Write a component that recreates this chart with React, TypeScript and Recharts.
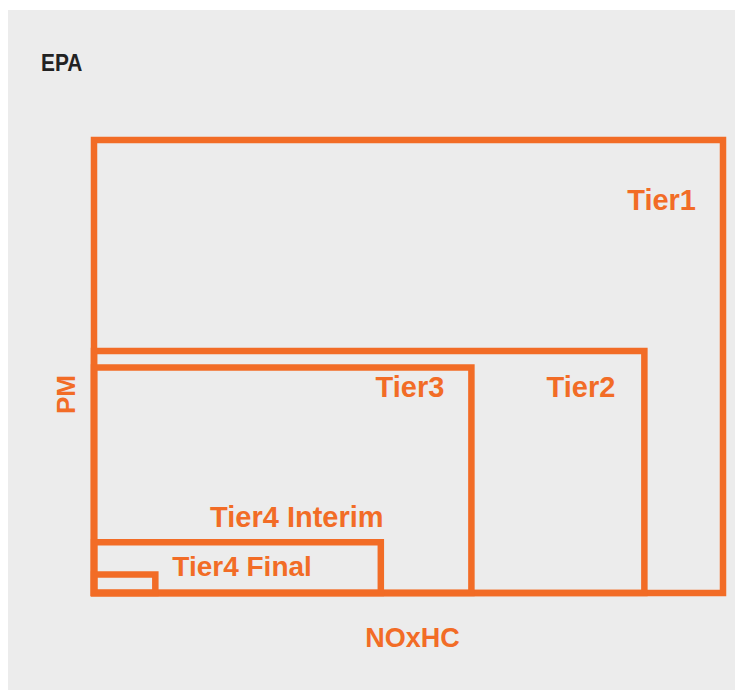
import React from "react";
import {
  ScatterChart,
  Scatter,
  XAxis,
  YAxis,
  ReferenceArea,
} from "recharts";

// EPA emission tiers (relative units, 0-100)
const tiers = ["Tier1", "Tier2", "Tier3", "Tier4 Interim", "Tier4 Final"];
const noxhcLimits = [100, 87.5, 60, 45.6, 9.75];
const pmLimits = [100, 53.4, 49.8, 11.2, 4.1];

const ORANGE = "#F26C26";
const FONT = "'Liberation Sans', Arial, sans-serif";

// where each tier label sits relative to its box's top-right corner
const labelLayout = [
  { anchor: "end", dx: -27, dy: 70 },
  { anchor: "end", dx: -29, dy: 46 },
  { anchor: "end", dx: -27, dy: 30 },
  { anchor: "middle", dx: -84, dy: -15 },
  { anchor: "start", dx: 17, dy: 2 },
];

const chartData = tiers.map((name, i) => ({
  name,
  x: noxhcLimits[i],
  y: pmLimits[i],
}));

const TierLabel = (props: any) => {
  const { viewBox, value, index } = props;
  const layout = labelLayout[index];
  const right = viewBox.x + viewBox.width;
  return (
    <text
      x={right + layout.dx}
      y={viewBox.y + layout.dy}
      textAnchor={layout.anchor}
      fill={ORANGE}
      fontFamily={FONT}
      fontWeight="bold"
      fontSize={index === 4 ? 28 : 29}
    >
      {value}
    </text>
  );
};

const XLabel = (props: any) => {
  const { viewBox } = props;
  return (
    <text
      x={viewBox.x + viewBox.width / 2 + 4}
      y={viewBox.y + 54}
      textAnchor="middle"
      fill={ORANGE}
      fontFamily={FONT}
      fontWeight="bold"
      fontSize={27}
    >
      NOxHC
    </text>
  );
};

const YLabel = (props: any) => {
  const { viewBox } = props;
  const cx = 67;
  const cy = viewBox.y + viewBox.height / 2 + 28;
  return (
    <text
      transform={`translate(${cx}, ${cy}) rotate(-90)`}
      textAnchor="middle"
      fill={ORANGE}
      fontFamily={FONT}
      fontWeight="bold"
      fontSize={26}
    >
      PM
    </text>
  );
};

export default function App() {
  return (
    <div
      style={{
        position: "relative",
        marginTop: 2,
        width: 735,
        height: 680,
        background: "#ECECEC",
      }}
    >
      <div
        style={{
          position: "absolute",
          left: 33,
          top: 39,
          fontFamily: FONT,
          fontWeight: "bold",
          fontSize: 24,
          color: "#222",
          transform: "scaleX(0.87)",
          transformOrigin: "left top",
          lineHeight: "28px",
        }}
      >
        EPA
      </div>
      <ScatterChart
        width={735}
        height={680}
        margin={{ top: 130, right: 20, left: 0, bottom: 0 }}
      >
        <XAxis
          type="number"
          dataKey="x"
          domain={[0, 100]}
          height={97}
          axisLine={false}
          tickLine={false}
          tick={false}
          label={<XLabel />}
        />
        <YAxis
          type="number"
          dataKey="y"
          domain={[0, 100]}
          width={86}
          axisLine={false}
          tickLine={false}
          tick={false}
          label={<YLabel />}
        />
        {chartData.map((entry, index) => (
          <ReferenceArea
            key={`tier-${index}`}
            x1={0}
            x2={entry.x}
            y1={0}
            y2={entry.y}
            fill="none"
            fillOpacity={0}
            stroke={ORANGE}
            strokeWidth={6.5}
            ifOverflow="visible"
            label={<TierLabel value={entry.name} index={index} />}
          />
        ))}
        <Scatter
          data={chartData}
          isAnimationActive={false}
          shape={() => <g />}
        />
      </ScatterChart>
    </div>
  );
}
